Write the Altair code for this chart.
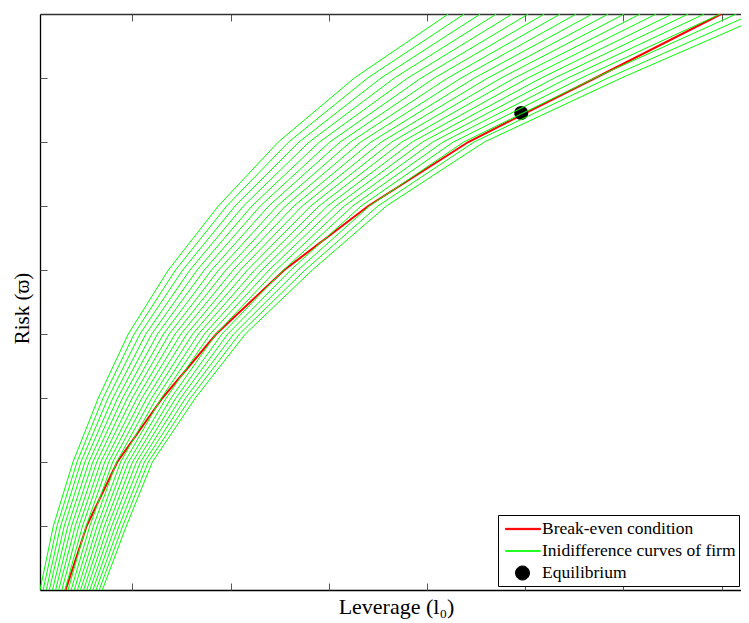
import altair as alt
import pandas as pd

# Risk levels (y) at which every curve was evaluated
omega_levels = [0, 1, 2, 3, 4, 5, 6, 7, 8, 9]

# Leverage of each of the 21 indifference curves at each risk level
lev_w0 = [0.059, 0.091, 0.123, 0.154, 0.186, 0.218, 0.249, 0.281, 0.313, 0.345, 0.376, 0.408, 0.440, 0.472, 0.503, 0.535, 0.567, 0.598, 0.630, 0.662, 0.694]
lev_w1 = [0.195, 0.232, 0.269, 0.306, 0.343, 0.380, 0.418, 0.455, 0.492, 0.529, 0.566, 0.603, 0.641, 0.678, 0.715, 0.752, 0.789, 0.826, 0.864, 0.901, 0.938]
lev_w2 = [0.395, 0.436, 0.476, 0.516, 0.557, 0.597, 0.637, 0.678, 0.718, 0.759, 0.799, 0.839, 0.880, 0.920, 0.960, 1.001, 1.041, 1.082, 1.122, 1.162, 1.203]
lev_w3 = [0.653, 0.702, 0.752, 0.801, 0.850, 0.900, 0.949, 0.998, 1.048, 1.097, 1.147, 1.196, 1.245, 1.295, 1.344, 1.394, 1.443, 1.492, 1.542, 1.591, 1.641]
lev_w4 = [0.958, 1.018, 1.077, 1.137, 1.197, 1.256, 1.316, 1.375, 1.435, 1.494, 1.554, 1.614, 1.673, 1.733, 1.792, 1.852, 1.912, 1.971, 2.031, 2.090, 2.150]
lev_w5 = [1.366, 1.439, 1.512, 1.586, 1.659, 1.732, 1.806, 1.879, 1.952, 2.026, 2.099, 2.172, 2.245, 2.319, 2.392, 2.465, 2.539, 2.612, 2.685, 2.759, 2.832]
lev_w6 = [1.875, 1.960, 2.046, 2.131, 2.217, 2.302, 2.388, 2.474, 2.559, 2.645, 2.730, 2.816, 2.901, 2.987, 3.072, 3.158, 3.243, 3.329, 3.414, 3.500, 3.586]
lev_w7 = [2.486, 2.591, 2.696, 2.800, 2.905, 3.010, 3.115, 3.220, 3.325, 3.430, 3.535, 3.640, 3.744, 3.849, 3.954, 4.059, 4.164, 4.269, 4.374, 4.479, 4.584]
lev_w8 = [3.260, 3.396, 3.532, 3.668, 3.804, 3.940, 4.075, 4.211, 4.347, 4.483, 4.619, 4.755, 4.891, 5.027, 5.163, 5.299, 5.435, 5.571, 5.707, 5.843, 5.979]
lev_w9 = [4.217, 4.380, 4.543, 4.706, 4.869, 5.032, 5.195, 5.357, 5.520, 5.683, 5.846, 6.009, 6.172, 6.335, 6.498, 6.661, 6.824, 6.987, 7.150, 7.313, 7.476]

# Break-even condition
red_lev = [0.320, 0.534, 0.846, 1.305, 1.854, 2.547, 3.402, 4.421, 5.714, 6.997]

# Equilibrium
eq_lev = [4.960]
eq_omega = [7.453]

x_ticks = [1, 2, 3, 4, 5, 6, 7]
y_ticks = [1, 2, 3, 4, 5, 6, 7, 8]

series_names = ["Break-even condition", "Inidifference curves of firm", "Equilibrium"]
series_colors = ["#ff0000", "#00ff00", "#000000"]
# legend/point glyphs (unit = half the symbol size): short lines and a filled dot
series_shapes = [
    "M-0.62,-0.06H2.71V0.06H-0.62Z",
    "M-0.62,-0.025H2.71V0.025H-0.62Z",
    "M1.667,0A0.667,0.667,0,1,1,0.333,0A0.667,0.667,0,1,1,1.667,0Z",
]

W, H = 701, 576
SERIF = "Liberation Serif"

levels = [lev_w0, lev_w1, lev_w2, lev_w3, lev_w4, lev_w5, lev_w6, lev_w7, lev_w8, lev_w9]
rows = []
for w, lev_list in zip(omega_levels, levels):
    for k, v in enumerate(lev_list):
        rows.append({"curve": k, "omega": w, "lev": v, "series": series_names[1]})
green_df = pd.DataFrame(rows)
red_df = pd.DataFrame({"omega": omega_levels, "lev": red_lev, "series": series_names[0]})
eq_df = pd.DataFrame({"omega": eq_omega, "lev": eq_lev, "series": series_names[2]})

xscale = alt.Scale(domain=[0.059, 7.198], nice=False, zero=False)
yscale = alt.Scale(domain=[0, 9], nice=False, zero=False)
cscale = alt.Scale(domain=series_names, range=series_colors)
leg = alt.Legend(title=None, orient="none", legendX=458, legendY=501)

axis_bottom = alt.Axis(orient="bottom", ticks=False, labels=False, grid=False, domain=True,
                       domainColor="#000000", domainWidth=1.3, title="Leverage (l₀)",
                       titleX=356, titlePadding=6, titleFontSize=22)
axis_bottom_ticks = alt.Axis(orient="top", offset=-H, ticks=True, tickSize=7, tickColor="#555555",
                             tickWidth=1, labels=False, grid=False, domain=False, title=None, values=x_ticks)
axis_top = alt.Axis(orient="bottom", offset=-H, ticks=True, tickSize=7, tickColor="#555555", tickWidth=1,
                    labels=False, grid=False, domain=True, domainColor="#333333", domainWidth=1.3,
                    title=None, values=x_ticks)
axis_left = alt.Axis(orient="left", ticks=False, labels=False, grid=False, domain=True,
                     domainColor="#000000", domainWidth=1.3, title="Risk (ϖ)", titlePadding=8,
                     titleY=294, titleFontSize=21)
axis_left_ticks = alt.Axis(orient="right", offset=-W, ticks=True, tickSize=7, tickColor="#555555",
                           tickWidth=1, labels=False, grid=False, domain=False, title=None, values=y_ticks)

red = alt.Chart(red_df).mark_line(strokeWidth=2, clip=True).encode(
    x=alt.X("lev:Q", scale=xscale, axis=axis_bottom),
    y=alt.Y("omega:Q", scale=yscale, axis=axis_left),
    color=alt.Color("series:N", scale=cscale, legend=leg),
    order="omega:Q",
)

eq = alt.Chart(eq_df).mark_point(filled=True, size=441, opacity=1, clip=True, xOffset=-10.5).encode(
    x=alt.X("lev:Q", scale=xscale, axis=axis_bottom_ticks),
    y=alt.Y("omega:Q", scale=yscale, axis=axis_left_ticks),
    color=alt.Color("series:N", scale=cscale, legend=leg),
    shape=alt.Shape("series:N", scale=alt.Scale(domain=series_names, range=series_shapes), legend=leg),
)

green = alt.Chart(green_df).mark_line(strokeWidth=1, clip=True).encode(
    x=alt.X("lev:Q", scale=xscale, axis=axis_top),
    y=alt.Y("omega:Q", scale=yscale, axis=None),
    color=alt.Color("series:N", scale=cscale, legend=leg),
    detail="curve:N",
    order="omega:Q",
)

chart = alt.layer(red, eq, green).resolve_axis(x="independent", y="independent").properties(
    width=W, height=H,
    autosize=alt.AutoSizeParams(type="none"),
    padding={"left": 32, "top": 6, "right": 0, "bottom": 30},
).configure_view(strokeWidth=0).configure_axis(
    titleFont=SERIF, titleFontWeight="normal", titleColor="#000000",
).configure_legend(
    labelFont=SERIF, labelFontSize=17.5, labelColor="#000000", labelOffset=19,
    symbolSize=441, symbolStrokeWidth=1, rowPadding=2, padding=3,
    strokeColor="#000000", fillColor="#ffffff", cornerRadius=0, labelLimit=400,
)

chart.save("out.html", embed_options={"renderer": "svg", "actions": False})
